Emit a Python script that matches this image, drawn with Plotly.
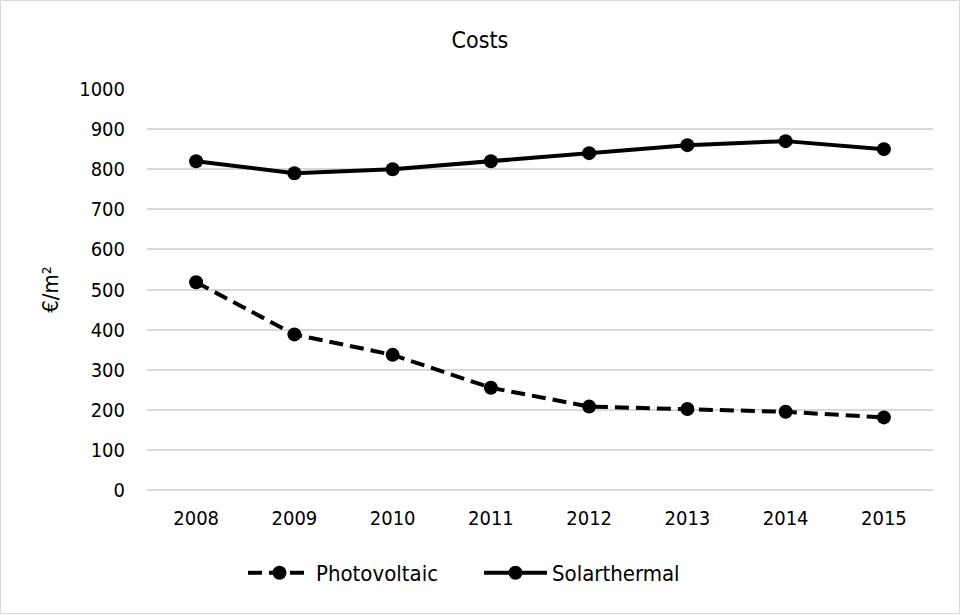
import plotly.graph_objects as go

years = ["2008", "2009", "2010", "2011", "2012", "2013", "2014", "2015"]
photovoltaic = [518, 388, 337, 255, 208, 202, 195, 181]
solarthermal = [820, 790, 800, 820, 840, 860, 870, 850]
y_ticks = [0, 100, 200, 300, 400, 500, 600, 700, 800, 900, 1000]

FONT = "DejaVu Sans Condensed, DejaVu Sans, sans-serif"
W, H = 961, 615
L, R, T, B = 147, 28, 89, 125

fig = go.Figure()
fig.add_trace(go.Scatter(
    x=years, y=photovoltaic, name="Photovoltaic", mode="lines+markers",
    line=dict(color="black", width=4, dash="14px,7px"),
    marker=dict(color="black", size=14),
))
fig.add_trace(go.Scatter(
    x=years, y=solarthermal, name="Solarthermal", mode="lines+markers",
    line=dict(color="black", width=4),
    marker=dict(color="black", size=14),
))

pw = W - L - R
ph = H - T - B
fig.add_shape(type="rect", xref="paper", yref="paper",
              x0=(-L + 0.5) / pw, x1=(W - L - 1.5) / pw,
              y0=(-B + 1.5) / ph, y1=(H - B - 0.5) / ph,
              line=dict(color="#d9d9d9", width=1), layer="below")

fig.update_layout(
    width=W, height=H,
    margin=dict(l=L, r=R, t=T, b=B),
    paper_bgcolor="white", plot_bgcolor="white",
    font=dict(family=FONT, size=20, color="#000000"),
    title=dict(text="Costs", x=480 / W, xref="container", xanchor="center",
               y=1 - 40 / H, yref="container", yanchor="middle",
               font=dict(family=FONT, size=23, color="#000000")),
    xaxis=dict(type="category", showgrid=False, showline=False, ticks="",
               ticklabelstandoff=14,
               tickfont=dict(family=FONT, size=20), range=[-0.5, 7.5]),
    yaxis=dict(range=[0, 1000], tickvals=y_ticks, showgrid=True, gridcolor="#d9d9d9",
               gridwidth=1.5, zeroline=True, zerolinecolor="#d9d9d9", zerolinewidth=1.5,
               showline=False, ticks="", ticklabelstandoff=21,
               tickfont=dict(family=FONT, size=20),
               title=dict(text="€/m²", font=dict(family=FONT, size=22), standoff=14)),
    legend=dict(orientation="h", x=(243 - L) / pw, xanchor="left",
                y=-(573 - (H - B)) / ph, yanchor="middle",
                itemwidth=63, entrywidth=158, entrywidthmode="pixels",
                font=dict(family=FONT, size=22)),
    showlegend=True,
)

fig.write_html("out.html", post_script="document.body.style.margin='0';",
               config={"displayModeBar": False})
